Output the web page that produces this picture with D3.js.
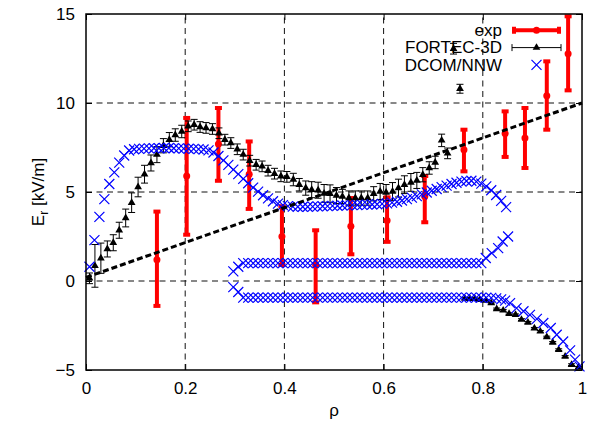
<!DOCTYPE html>
<html lang="en">
<head>
<meta charset="UTF-8">
<script src="https://d3js.org/d3.v7.min.js"></script>
<style>
  body { margin: 0; background: #fff; }
  text { font-family: "Liberation Sans", Arial, sans-serif; font-size: 17px; fill: #000; }
</style>
</head>
<body>
<svg id="chart" width="591" height="427"></svg>
<script>
// ---- data ----
const xTicks = [0, 0.2, 0.4, 0.6, 0.8, 1];
const yTicks = [-5, 0, 5, 10, 15];

// exp: centre and lower/upper ends of each error bar
const expRho = [0.143, 0.203, 0.267, 0.329, 0.395, 0.463, 0.534, 0.607, 0.683, 0.762, 0.845, 0.885, 0.929, 0.972];
const expE   = [1.2, 5.9, 7.7, 6.0, 2.5, 0.9, 3.07, 3.4, 4.75, 7.38, 8.28, 8.03, 10.41, 12.77];
const expLo  = [-1.4, 2.6, 5.63, 4.05, 0.9, -1.2, 1.5, 2.2, 3.3, 6.16, 6.97, 6.35, 8.5, 10.71];
const expHi  = [3.9, 9.16, 9.72, 7.84, 4.2, 2.85, 4.66, 4.7, 5.9, 8.5, 9.53, 9.72, 12.34, 14.87];

// FORTEC-3D: rho, Er, error
const fortecRho = [0.007, 0.018, 0.030, 0.043, 0.055, 0.067, 0.080, 0.092, 0.105, 0.118,
  0.131, 0.143, 0.156, 0.168, 0.180, 0.193, 0.206, 0.218, 0.230, 0.242,
  0.255, 0.268, 0.280, 0.292, 0.305, 0.317, 0.330, 0.343, 0.355, 0.367,
  0.380, 0.393, 0.405, 0.418, 0.430, 0.443, 0.455, 0.468, 0.480, 0.492,
  0.505, 0.517, 0.530, 0.543, 0.555, 0.568, 0.580, 0.593, 0.605, 0.618,
  0.630, 0.642, 0.655, 0.667, 0.679, 0.692, 0.704, 0.717, 0.729, 0.741,
  0.754, 0.764, 0.774, 0.784, 0.794, 0.806, 0.817, 0.828, 0.841, 0.853,
  0.866, 0.878, 0.891, 0.904, 0.916, 0.929, 0.941, 0.953, 0.966, 0.979, 0.993];
const fortecE = [0.15, 0.85, 1.28, 1.8, 2.15, 2.85, 3.54, 4.4, 5.28, 6.0,
  6.63, 7.1, 7.6, 7.94, 8.2, 8.4, 8.69, 8.78, 8.65, 8.6,
  8.54, 8.3, 7.94, 7.75, 7.4, 7.1, 6.76, 6.53, 6.44, 6.2,
  6.03, 5.88, 5.85, 5.7, 5.41, 5.22, 5.13, 5.1, 4.92, 4.9,
  4.8, 4.75, 4.66, 4.66, 4.66, 4.66, 4.9, 5.03, 4.97, 5.03,
  5.22, 5.41, 5.54, 5.65, 5.97, 6.35, 6.66, 7.9, 7.17, 13.05,
  10.8, -0.99, -1.0, -1.0, -1.05, -1.1, -1.24, -1.57, -1.65, -1.84,
  -1.9, -2.17, -2.33, -2.66, -2.83, -3.15, -3.45, -3.86, -4.24, -4.7, -4.85];
const fortecErr = [0.3, 1.2, 0.85, 0.45, 0.45, 0.45, 0.5, 0.55, 0.55, 0.5,
  0.45, 0.45, 0.4, 0.4, 0.35, 0.35, 0.3, 0.3, 0.3, 0.3,
  0.3, 0.3, 0.3, 0.3, 0.3, 0.3, 0.3, 0.3, 0.3, 0.3,
  0.3, 0.3, 0.3, 0.35, 0.35, 0.4, 0.45, 0.45, 0.5, 0.5,
  0.45, 0.4, 0.4, 0.4, 0.4, 0.4, 0.4, 0.45, 0.45, 0.5,
  0.5, 0.5, 0.5, 0.45, 0.4, 0.35, 0.35, 0.35, 0.3, 0.3,
  0.25, 0.05, 0.05, 0.05, 0.05, 0.05, 0.05, 0.05, 0.05, 0.05,
  0.05, 0.05, 0.05, 0.05, 0.05, 0.05, 0.05, 0.05, 0.05, 0.05, 0.05];

// DCOM/NNW: three branches
const dcomUpperRho = [0.007, 0.017, 0.027, 0.037, 0.047, 0.057, 0.067, 0.077, 0.087, 0.097,
  0.107, 0.117, 0.127, 0.137, 0.147, 0.157, 0.167, 0.177, 0.187, 0.197,
  0.207, 0.217, 0.227, 0.237, 0.247, 0.257, 0.267, 0.277, 0.287, 0.297,
  0.307, 0.317, 0.327, 0.337, 0.347, 0.357, 0.367, 0.377, 0.387, 0.397,
  0.407, 0.417, 0.427, 0.437, 0.447, 0.457, 0.467, 0.477, 0.487, 0.497,
  0.507, 0.517, 0.527, 0.537, 0.547, 0.557, 0.567, 0.577, 0.587, 0.597,
  0.607, 0.617, 0.627, 0.637, 0.647, 0.657, 0.667, 0.677, 0.687, 0.697,
  0.707, 0.717, 0.727, 0.737, 0.747, 0.757, 0.767, 0.777, 0.787, 0.797,
  0.807, 0.817, 0.827, 0.837, 0.847];
const dcomUpperE = [0.8, 2.3, 3.6, 4.6, 5.45, 6.1, 6.65, 7.05, 7.33, 7.4,
  7.42, 7.44, 7.45, 7.46, 7.46, 7.47, 7.47, 7.46, 7.45, 7.44,
  7.43, 7.42, 7.41, 7.39, 7.34, 7.22, 7.02, 6.78, 6.52, 6.26,
  6.0, 5.74, 5.49, 5.25, 5.02, 4.82, 4.64, 4.48, 4.35, 4.26,
  4.21, 4.18, 4.17, 4.17, 4.17, 4.18, 4.19, 4.2, 4.21, 4.22,
  4.23, 4.24, 4.25, 4.26, 4.27, 4.28, 4.29, 4.3, 4.31, 4.33,
  4.36, 4.4, 4.45, 4.52, 4.6, 4.68, 4.77, 4.87, 4.97, 5.07,
  5.17, 5.27, 5.36, 5.45, 5.52, 5.58, 5.62, 5.63, 5.58, 5.47,
  5.32, 5.1, 4.83, 4.5, 4.15];

const dcomMidRho = [0.297, 0.307, 0.317, 0.327, 0.337, 0.347, 0.357, 0.367, 0.377, 0.387,
  0.397, 0.407, 0.417, 0.427, 0.437, 0.447, 0.457, 0.467, 0.477, 0.487,
  0.497, 0.507, 0.517, 0.527, 0.537, 0.547, 0.557, 0.567, 0.577, 0.587,
  0.597, 0.607, 0.617, 0.627, 0.637, 0.647, 0.657, 0.667, 0.677, 0.687,
  0.697, 0.707, 0.717, 0.727, 0.737, 0.747, 0.757, 0.767, 0.777, 0.787,
  0.797, 0.806, 0.818, 0.831, 0.840, 0.851];
const dcomMidE = [0.54, 0.8, 1.0, 1.0, 1.0, 1.0, 1.0, 1.0, 1.0, 1.0,
  1.0, 1.0, 1.0, 1.0, 1.0, 1.0, 1.0, 1.0, 1.0, 1.0,
  1.0, 1.0, 1.0, 1.0, 1.0, 1.0, 1.0, 1.0, 1.0, 1.0,
  1.0, 1.0, 1.0, 1.0, 1.0, 1.0, 1.0, 1.0, 1.0, 1.0,
  1.0, 1.0, 1.0, 1.0, 1.0, 1.0, 1.0, 1.0, 1.0, 1.0,
  1.0, 1.29, 1.57, 1.85, 2.22, 2.5];

const dcomLowRho = [0.297, 0.307, 0.317, 0.327, 0.337, 0.347, 0.357, 0.367, 0.377, 0.387,
  0.397, 0.407, 0.417, 0.427, 0.437, 0.447, 0.457, 0.467, 0.477, 0.487,
  0.497, 0.507, 0.517, 0.527, 0.537, 0.547, 0.557, 0.567, 0.577, 0.587,
  0.597, 0.607, 0.617, 0.627, 0.637, 0.647, 0.657, 0.667, 0.677, 0.687,
  0.697, 0.707, 0.717, 0.727, 0.737, 0.747, 0.757, 0.767, 0.777, 0.787,
  0.797, 0.807, 0.817, 0.827, 0.837, 0.845, 0.855, 0.868, 0.882, 0.895,
  0.909, 0.922, 0.937, 0.949, 0.962, 0.976, 0.986, 0.995];
const dcomLowE = [-0.34, -0.62, -0.93, -0.93, -0.93, -0.93, -0.93, -0.93, -0.93, -0.93,
  -0.93, -0.93, -0.93, -0.93, -0.93, -0.93, -0.93, -0.93, -0.93, -0.93,
  -0.93, -0.93, -0.93, -0.93, -0.93, -0.93, -0.93, -0.93, -0.93, -0.93,
  -0.93, -0.93, -0.93, -0.93, -0.93, -0.93, -0.93, -0.93, -0.93, -0.93,
  -0.93, -0.93, -0.93, -0.93, -0.93, -0.93, -0.93, -0.93, -0.93, -0.93,
  -0.93, -0.93, -0.95, -0.98, -1.03, -1.1, -1.24, -1.52, -1.7, -1.9,
  -2.13, -2.36, -2.64, -3.02, -3.4, -3.9, -4.42, -4.8];

// straight dashed reference line (two end points)
const refRho = [0, 1];
const refE = [0.2, 10];

const legendLabels = ["exp", "FORTEC-3D", "DCOM/NNW"];

// ---- chart ----
const svg = d3.select("svg#chart");
const width = +svg.attr("width");
const height = +svg.attr("height");
const margin = { top: 14, right: 9, bottom: 57, left: 86 };

const x = d3.scaleLinear().domain([0, 1]).range([margin.left, width - margin.right]);
const y = d3.scaleLinear().domain([-5, 15]).range([height - margin.bottom, margin.top]);

// grid
const grid = svg.append("g").attr("class", "grid")
  .attr("stroke", "#111").attr("stroke-width", 1).attr("stroke-dasharray", "6,4.5");
grid.selectAll("line.v").data(xTicks.slice(1, -1)).join("line").attr("class", "v")
  .attr("x1", d => x(d)).attr("x2", d => x(d))
  .attr("y1", y(-5)).attr("y2", y(15));
grid.selectAll("line.h").data(yTicks.slice(1, -1)).join("line").attr("class", "h")
  .attr("x1", x(0)).attr("x2", x(1))
  .attr("y1", d => y(d)).attr("y2", d => y(d));

// axes, ticks pointing inward
const fmt = d => d3.format("")(d);
svg.append("g").attr("transform", `translate(0,${y(-5)})`)
  .call(d3.axisBottom(x).tickValues(xTicks).tickFormat(fmt).tickSizeInner(-6).tickSizeOuter(0).tickPadding(12))
  .call(g => g.select(".domain").remove());
svg.append("g").attr("transform", `translate(0,${y(15)})`)
  .call(d3.axisTop(x).tickValues(xTicks).tickFormat("").tickSizeInner(-6).tickSizeOuter(0))
  .call(g => g.select(".domain").remove());
svg.append("g").attr("transform", `translate(${x(0)},0)`)
  .call(d3.axisLeft(y).tickValues(yTicks).tickFormat(fmt).tickSizeInner(-6).tickSizeOuter(0).tickPadding(11))
  .call(g => g.select(".domain").remove());
svg.append("g").attr("transform", `translate(${x(1)},0)`)
  .call(d3.axisRight(y).tickValues(yTicks).tickFormat("").tickSizeInner(-6).tickSizeOuter(0))
  .call(g => g.select(".domain").remove());
svg.selectAll(".tick text").attr("font-family", "Liberation Sans, Arial, sans-serif").attr("font-size", 17);
svg.selectAll(".tick line").attr("stroke", "#000").attr("stroke-width", 1);

// exp error bars
const expData = expRho.map((r, i) => ({ r, e: expE[i], lo: expLo[i], hi: expHi[i] }));
const expG = svg.append("g").attr("class", "exp").attr("stroke", "#ff0000");
expG.selectAll("line.bar").data(expData).join("line").attr("class", "bar")
  .attr("x1", d => x(d.r)).attr("x2", d => x(d.r))
  .attr("y1", d => y(d.lo)).attr("y2", d => y(d.hi)).attr("stroke-width", 4);
expG.selectAll("line.capLo").data(expData).join("line").attr("class", "capLo")
  .attr("x1", d => x(d.r) - 3.5).attr("x2", d => x(d.r) + 3.5)
  .attr("y1", d => y(d.lo)).attr("y2", d => y(d.lo)).attr("stroke-width", 4);
expG.selectAll("line.capHi").data(expData).join("line").attr("class", "capHi")
  .attr("x1", d => x(d.r) - 3.5).attr("x2", d => x(d.r) + 3.5)
  .attr("y1", d => y(d.hi)).attr("y2", d => y(d.hi)).attr("stroke-width", 4);
expG.selectAll("circle").data(expData).join("circle")
  .attr("cx", d => x(d.r)).attr("cy", d => y(d.e)).attr("r", 3.5)
  .attr("fill", "#ff0000").attr("stroke", "none");

// FORTEC-3D
const fortecData = fortecRho.map((r, i) => ({ r, e: fortecE[i], err: fortecErr[i] }));
const fG = svg.append("g").attr("class", "fortec").attr("stroke", "#000").attr("stroke-width", 1);
fG.selectAll("path.eb").data(fortecData).join("path").attr("class", "eb")
  .attr("fill", "none")
  .attr("d", d => {
    const cx = x(d.r), y0 = y(d.e - d.err), y1 = y(d.e + d.err);
    return `M${cx},${y0}V${y1}M${cx - 3.5},${y0}H${cx + 3.5}M${cx - 3.5},${y1}H${cx + 3.5}`;
  });
const tri = d3.symbol().type(d3.symbolTriangle).size(26);
fG.selectAll("path.tri").data(fortecData).join("path").attr("class", "tri")
  .attr("d", tri).attr("fill", "#000").attr("stroke", "none")
  .attr("transform", d => `translate(${x(d.r)},${y(d.e)})`);

// DCOM/NNW crosses
const crossPath = (cx, cy, s) => `M${cx - s},${cy - s}L${cx + s},${cy + s}M${cx - s},${cy + s}L${cx + s},${cy - s}`;
const dcomData = [
  ...dcomUpperRho.map((r, i) => ({ r, e: dcomUpperE[i] })),
  ...dcomMidRho.map((r, i) => ({ r, e: dcomMidE[i] })),
  ...dcomLowRho.map((r, i) => ({ r, e: dcomLowE[i] }))
];
svg.append("g").attr("class", "dcom")
  .selectAll("path").data(dcomData).join("path")
  .attr("d", d => crossPath(x(d.r), y(d.e), 5))
  .attr("fill", "none").attr("stroke", "#0000ff").attr("stroke-width", 1.2);

// dashed reference line
svg.append("path")
  .datum(refRho.map((r, i) => [r, refE[i]]))
  .attr("d", d3.line().x(d => x(d[0])).y(d => y(d[1])))
  .attr("fill", "none").attr("stroke", "#000").attr("stroke-width", 3)
  .attr("stroke-dasharray", "6,3");

// border
svg.append("rect")
  .attr("x", x(0)).attr("y", y(15))
  .attr("width", x(1) - x(0)).attr("height", y(-5) - y(15))
  .attr("fill", "none").attr("stroke", "#000").attr("stroke-width", 1.5);

// axis labels
svg.append("text").attr("x", (x(0) + x(1)) / 2).attr("y", 416)
  .attr("text-anchor", "middle").text("ρ");
const yl = svg.append("text").attr("text-anchor", "middle")
  .attr("transform", `translate(44,${(y(-5) + y(15)) / 2}) rotate(-90)`);
yl.append("tspan").text("E");
yl.append("tspan").attr("font-size", 12).attr("dy", 4).text("r");
yl.append("tspan").attr("dy", -4).text(" [kV/m]");

// legend
const legend = svg.append("g").attr("class", "legend");
const lx0 = 512, lx1 = 561, lmid = 536.5;
legendLabels.forEach((lab, i) => {
  const base = 36 + i * 17.3;
  const ly = base - 5.7;
  legend.append("text").attr("x", 502).attr("y", base).attr("text-anchor", "end").text(lab);
  if (i === 0) {
    legend.append("path").attr("d", `M${lx0},${ly}H${lx1}M${lx0 + 2},${ly - 3.5}V${ly + 3.5}M${lx1 - 2},${ly - 3.5}V${ly + 3.5}`)
      .attr("stroke", "#ff0000").attr("stroke-width", 4).attr("fill", "none");
    legend.append("circle").attr("cx", lmid).attr("cy", ly).attr("r", 3.5).attr("fill", "#ff0000");
  } else if (i === 1) {
    legend.append("path").attr("d", `M${lx0},${ly}H${lx1}M${lx0},${ly - 3.5}V${ly + 3.5}M${lx1},${ly - 3.5}V${ly + 3.5}`)
      .attr("stroke", "#000").attr("stroke-width", 1).attr("fill", "none");
    legend.append("path").attr("d", tri).attr("fill", "#000")
      .attr("transform", `translate(${lmid},${ly})`);
  } else {
    legend.append("path").attr("d", crossPath(lmid, ly, 5))
      .attr("stroke", "#0000ff").attr("stroke-width", 1.2).attr("fill", "none");
  }
});
</script>
</body>
</html>
